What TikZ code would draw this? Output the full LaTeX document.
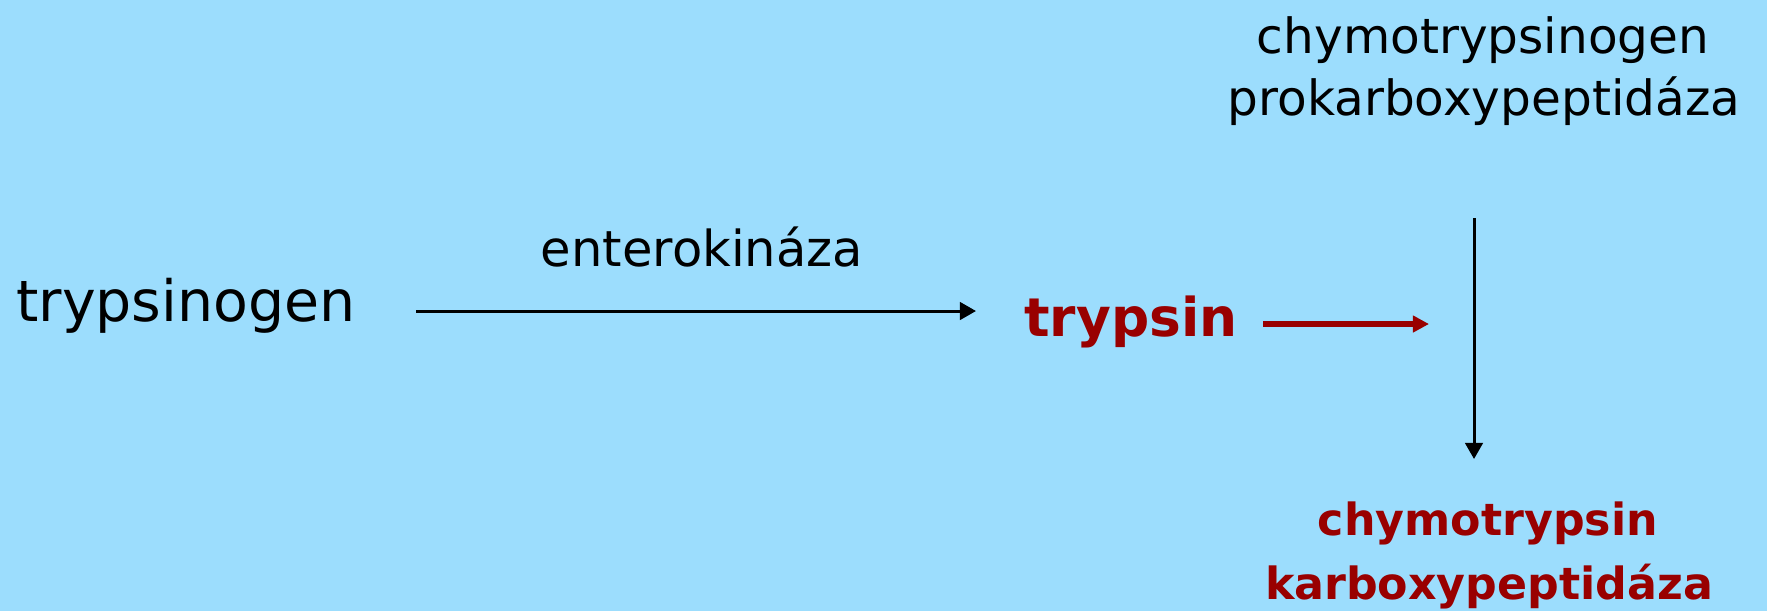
\documentclass[tikz,border=0pt]{standalone}
\usepackage{fontspec}
\setmainfont{DejaVu Sans}
\usetikzlibrary{arrows.meta}
\definecolor{bg}{HTML}{9CDDFD}
\definecolor{dred}{HTML}{990000}
\tikzset{
  lbl/.style={anchor=base, inner sep=0pt, text=black},
  hot/.style={anchor=base, inner sep=0pt, text=dred, font=\bfseries},
  blackarr/.style={draw=black, line width=0.85pt, -{Triangle[length=4.6pt,width=5pt]}},
  redarr/.style={draw=dred, line width=1.45pt, -{Triangle[length=4.6pt,width=4.6pt]}},
}
\begin{document}
\begin{tikzpicture}[x=0.01cm, y=-0.01cm]
\fill[bg] (0,0) rectangle (1767,611);
\useasboundingbox (0,0) rectangle (1767,611);
\node[lbl, font=\fontsize{16.2}{19}\selectfont] (tg) at (186,321) {trypsinogen};
\node[lbl, font=\fontsize{14.1}{17}\selectfont] (ek) at (702,266) {enterokináza};
\node[hot, font=\fontsize{15.2}{18}\selectfont\bfseries] (tr) at (1131,336) {trypsin};
\node[lbl, font=\fontsize{13.8}{17}\selectfont] (ctg) at (1483,53) {chymotrypsinogen};
\node[lbl, font=\fontsize{13.8}{17}\selectfont] (pkp) at (1484,115) {prokarboxypeptidáza};
\node[hot, font=\fontsize{12.6}{15}\selectfont\bfseries] (ct) at (1488,535) {chymotrypsin};
\node[hot, font=\fontsize{12.6}{15}\selectfont\bfseries] (kp) at (1489,599) {karboxypeptidáza};
\coordinate (a1s) at (416,311);
\coordinate (a1e) at (976,311);
\coordinate (a2s) at (1263,324);
\coordinate (a2e) at (1429,324);
\coordinate (a3s) at (1474,218);
\coordinate (a3e) at (1474,459);
\draw[blackarr] (a1s) -- (a1e);
\draw[redarr] (a2s) -- (a2e);
\draw[blackarr] (a3s) -- (a3e);
\end{tikzpicture}
\end{document}
